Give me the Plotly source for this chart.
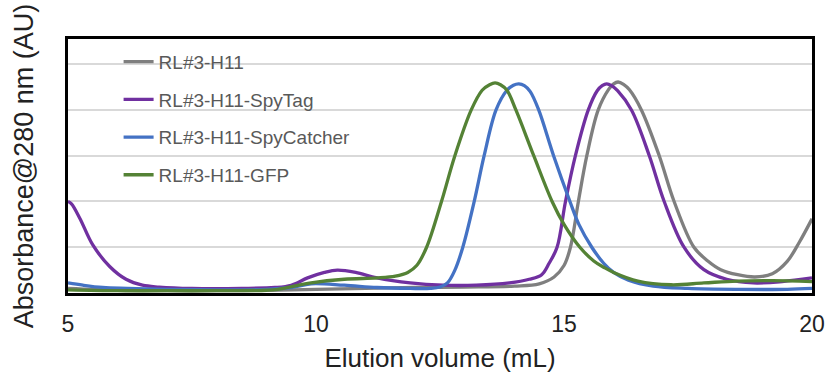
import plotly.graph_objects as go

# ---- data ----
series_names = ["RL#3-H11", "RL#3-H11-SpyTag", "RL#3-H11-SpyCatcher", "RL#3-H11-GFP"]

h11_x = [5, 6, 7, 8, 9, 10, 11, 12, 13, 14, 14.5, 14.8, 15.0, 15.13, 15.29, 15.46, 15.69, 15.9, 16.0,
         16.09, 16.2, 16.32, 16.56, 16.92, 17.22, 17.62, 17.9, 18.16, 18.5, 18.85, 19.2, 19.5, 19.75, 20]
h11_y = [0.1, 0.06, 0.05, 0.05, 0.06, 0.08, 0.1, 0.12, 0.13, 0.15, 0.2, 0.35, 0.6, 1.0, 2.0, 3.0, 4.0, 4.45, 4.57,
         4.61, 4.56, 4.44, 4.0, 3.0, 2.0, 1.0, 0.7, 0.51, 0.4, 0.35, 0.42, 0.69, 1.12, 1.62]

spytag_x = [5, 5.07, 5.24, 5.5, 5.84, 6.17, 6.5, 6.84, 7.5, 8.5, 9.17, 9.5, 9.83, 10.17, 10.43, 10.8,
            11.23, 11.9, 12.56, 13.23, 13.9, 14.3, 14.55, 14.7, 14.86, 15.03, 15.23, 15.49, 15.67, 15.77,
            15.86, 15.96, 16.08, 16.36, 16.72, 17.02, 17.42, 17.82, 18.28, 18.82, 19.4, 20]
spytag_y = [2.0, 1.95, 1.63, 1.05, 0.58, 0.3, 0.17, 0.13, 0.1, 0.1, 0.12, 0.17, 0.33, 0.45, 0.5, 0.45,
            0.33, 0.22, 0.17, 0.17, 0.22, 0.3, 0.4, 0.65, 1.0, 2.0, 3.0, 4.0, 4.42, 4.53,
            4.57, 4.53, 4.42, 4.0, 3.0, 2.0, 1.0, 0.51, 0.3, 0.22, 0.25, 0.33]

spycatcher_x = [5, 5.3, 5.7, 6.2, 7, 8, 9, 9.5, 9.9, 10.57, 11.23, 11.9, 12.3, 12.5, 12.65, 12.8, 12.96,
                13.19, 13.39, 13.63, 13.85, 13.98, 14.09, 14.2, 14.32, 14.49, 14.79, 15.12, 15.3, 15.56, 15.8, 16.0,
                16.3, 16.8, 17.5, 18.5, 19.5, 20]
spycatcher_y = [0.22, 0.17, 0.12, 0.1, 0.08, 0.07, 0.08, 0.12, 0.2, 0.17, 0.12, 0.1, 0.1, 0.13, 0.22, 0.5, 1.0,
                2.0, 3.0, 4.0, 4.43, 4.54, 4.57, 4.53, 4.4, 4.0, 3.0, 2.0, 1.5, 1.0, 0.65, 0.45,
                0.28, 0.15, 0.1, 0.08, 0.08, 0.1]

gfp_x = [5, 6, 7, 8, 9, 9.23, 9.9, 10.57, 11.23, 11.6, 11.85, 12.03, 12.23, 12.53, 12.8, 13.13, 13.35, 13.5,
         13.61, 13.72, 13.85, 14.03, 14.39, 14.76, 15.0, 15.32, 15.6, 15.82, 16.0, 16.49, 17.16, 17.82, 18.48, 19.2, 20]
gfp_y = [0.07, 0.05, 0.05, 0.05, 0.06, 0.08, 0.22, 0.3, 0.33, 0.37, 0.45, 0.6, 1.0, 2.0, 3.0, 4.0, 4.43, 4.55,
         4.59, 4.55, 4.43, 4.0, 3.0, 2.0, 1.5, 1.0, 0.7, 0.55, 0.45, 0.26, 0.18, 0.22, 0.26, 0.27, 0.25]

x_tick_vals = [5, 10, 15, 20]
x_tick_text = ["5", "10", "15", "20"]

colors = ["#7f7f7f", "#7030a0", "#4472c4", "#548235"]

xs = [h11_x, spytag_x, spycatcher_x, gfp_x]
ys = [h11_y, spytag_y, spycatcher_y, gfp_y]

FONT = "Arial, Liberation Sans, sans-serif"

fig = go.Figure()
for i, (name, x, y, c) in enumerate(zip(series_names, xs, ys, colors)):
    fig.add_trace(go.Scatter(
        x=x, y=y, name=name, mode="lines",
        line=dict(color=c, width=3.3, shape="spline", smoothing=1.0),
        legendgroup=f"g{i}",
    ))

fig.update_layout(
    width=837, height=381,
    margin=dict(l=68, r=18, t=39, b=86),
    paper_bgcolor="white", plot_bgcolor="white",
    font=dict(family=FONT, color="#222222"),
    showlegend=True,
    legend=dict(
        x=0.068, y=0.985, xanchor="left", yanchor="top",
        bgcolor="rgba(0,0,0,0)", borderwidth=0,
        font=dict(family=FONT, size=19, color="#595959"),
        tracegroupgap=10,
    ),
    xaxis=dict(
        range=[5, 20], tickvals=x_tick_vals, ticktext=x_tick_text,
        tickfont=dict(family=FONT, size=23, color="#222222"),
        showgrid=False, zeroline=False,
        showline=True, linecolor="black", linewidth=2.5, mirror=True,
        ticks="", ticklabelstandoff=9,
        title=dict(text="Elution volume (mL)", font=dict(family=FONT, size=26, color="#222222"), standoff=13),
    ),
    yaxis=dict(
        range=[0, 5.55], dtick=1, tick0=0,
        showticklabels=False, ticks="",
        showgrid=True, gridcolor="#d9d9d9", gridwidth=1.5,
        zeroline=False,
        showline=True, linecolor="black", linewidth=2.5, mirror=True,
        title=dict(text="Absorbance@280 nm (AU)", font=dict(family=FONT, size=27, color="#222222"), standoff=24),
    ),
)

fig.write_html("out.html")
